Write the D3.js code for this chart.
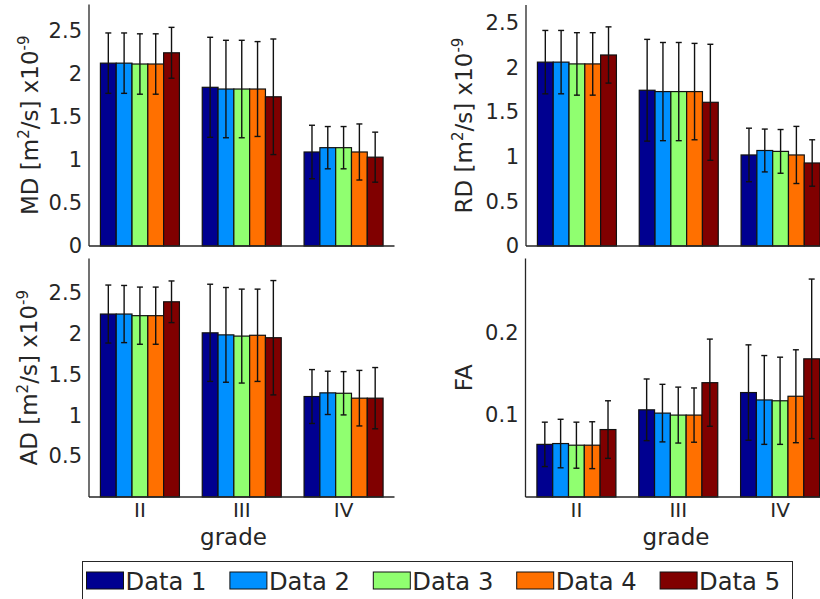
<!DOCTYPE html>
<html>
<head>
<meta charset="utf-8">
<script src="https://cdn.jsdelivr.net/npm/d3@7"></script>
<style>
  body { margin: 0; background: #fff; }
  svg text { font-family: 'DejaVu Sans', sans-serif; fill: #262626; }
</style>
</head>
<body>
<svg id="chart" width="820" height="599"></svg>
<script>
'use strict'

/****** DATA ******/

const grades = ['II', 'III', 'IV']
const seriesNames = ['Data 1', 'Data 2', 'Data 3', 'Data 4', 'Data 5']
const seriesColors = ['#000090', '#0090ff', '#90ff70', '#ff7000', '#800000']

// mean values, one row per grade (II, III, IV), one column per series
const mdMean = [[2.12, 2.12, 2.11, 2.11, 2.24],
                [1.84, 1.82, 1.82, 1.82, 1.73],
                [1.09, 1.14, 1.14, 1.09, 1.03]]
const mdErr  = [[0.35, 0.35, 0.35, 0.35, 0.295],
                [0.58, 0.565, 0.565, 0.55, 0.67],
                [0.31, 0.245, 0.245, 0.325, 0.29]]

const rdMean = [[2.06, 2.06, 2.04, 2.04, 2.14],
                [1.745, 1.73, 1.73, 1.73, 1.61],
                [1.02, 1.07, 1.06, 1.02, 0.93]]
const rdErr  = [[0.355, 0.355, 0.35, 0.35, 0.315],
                [0.57, 0.55, 0.55, 0.54, 0.65],
                [0.30, 0.24, 0.245, 0.32, 0.26]]

const adMean = [[2.24, 2.24, 2.22, 2.22, 2.39],
                [2.01, 1.985, 1.97, 1.98, 1.95],
                [1.23, 1.275, 1.27, 1.21, 1.21]]
const adErr  = [[0.355, 0.35, 0.35, 0.35, 0.255],
                [0.595, 0.58, 0.575, 0.565, 0.70],
                [0.33, 0.265, 0.265, 0.34, 0.375]]

const faMean = [[0.064, 0.065, 0.063, 0.063, 0.082],
                [0.106, 0.102, 0.0996, 0.0996, 0.139],
                [0.127, 0.118, 0.117, 0.1225, 0.168]]
const faErr  = [[0.027, 0.0295, 0.028, 0.0285, 0.035],
                [0.0375, 0.035, 0.034, 0.033, 0.053],
                [0.058, 0.054, 0.053, 0.0565, 0.097]]

const mdTicks = [0, 0.5, 1, 1.5, 2, 2.5]
const adTicks = [0.5, 1, 1.5, 2, 2.5]
const faTicks = [0.1, 0.2]

/****** LAYOUT ******/

const svg = d3.select('#chart')
const AXIS_COLOR = '#262626'
const PLOT_W = 305.5
const GROUP_W = 79

const panels = [
  { name: 'MD', mean: mdMean, err: mdErr, yMax: 2.8, ticks: mdTicks,
    left: 89, top: 4.5, bottom: 246, labelX: 38, xLabels: false },
  { name: 'RD', mean: rdMean, err: rdErr, yMax: 2.7, ticks: mdTicks,
    left: 526, top: 5, bottom: 246, labelX: 472, xLabels: false },
  { name: 'AD', mean: adMean, err: adErr, yMax: 2.92, ticks: adTicks,
    left: 89, top: 258.5, bottom: 497, labelX: 37, xLabels: true, gradeX: 233.5 },
  { name: 'FA', mean: faMean, err: faErr, yMax: 0.29, ticks: faTicks,
    left: 525.5, top: 258.5, bottom: 497, labelX: 472, xLabels: true, gradeX: 676 }
]

function drawPanel(p) {
  const x = d3.scaleBand().domain(grades).range([p.left, p.left + PLOT_W])
  const xs = d3.scaleBand().domain(d3.range(seriesNames.length))
    .range([-GROUP_W / 2, GROUP_W / 2])
  const y = d3.scaleLinear().domain([0, p.yMax]).range([p.bottom, p.top])

  const g = svg.append('g')

  // flatten to one record per bar
  const bars = []
  grades.forEach((gr, i) => seriesNames.forEach((s, j) => {
    bars.push({ grade: gr, s: j, v: p.mean[i][j], e: p.err[i][j] })
  }))

  g.selectAll('rect.bar')
    .data(bars)
    .join('rect')
      .attr('class', 'bar')
      .attr('x', d => x(d.grade) + x.bandwidth() / 2 + xs(d.s))
      .attr('y', d => y(d.v))
      .attr('width', xs.bandwidth())
      .attr('height', d => y(0) - y(d.v))
      .attr('fill', d => seriesColors[d.s])
      .attr('stroke', '#111')
      .attr('stroke-width', 1.2)

  // error bars
  const cx = d => x(d.grade) + x.bandwidth() / 2 + xs(d.s) + xs.bandwidth() / 2
  const eb = g.selectAll('g.err').data(bars).join('g').attr('class', 'err')
    .attr('stroke', '#111').attr('stroke-width', 1.4)
  eb.append('line')
    .attr('x1', cx).attr('x2', cx)
    .attr('y1', d => y(d.v + d.e)).attr('y2', d => y(d.v - d.e))
  eb.append('line')
    .attr('x1', d => cx(d) - 3).attr('x2', d => cx(d) + 3)
    .attr('y1', d => y(d.v + d.e)).attr('y2', d => y(d.v + d.e))
  eb.append('line')
    .attr('x1', d => cx(d) - 3).attr('x2', d => cx(d) + 3)
    .attr('y1', d => y(d.v - d.e)).attr('y2', d => y(d.v - d.e))

  // axes (box off, no tick marks)
  const yAxis = g.append('g')
    .attr('transform', `translate(${p.left},0)`)
    .call(d3.axisLeft(y).tickValues(p.ticks).tickSize(0).tickPadding(7)
      .tickFormat(d3.format('~g')))
  yAxis.select('.domain').attr('stroke', AXIS_COLOR).attr('stroke-width', 1.3)
    .attr('d', `M0,${p.top}V${p.bottom}`)
  yAxis.selectAll('text').style('font-size', '21px').attr('fill', AXIS_COLOR)

  const xAxis = g.append('g')
    .attr('transform', `translate(0,${p.bottom})`)
    .call(d3.axisBottom(x).tickSize(0).tickPadding(6))
  xAxis.select('.domain').attr('stroke', AXIS_COLOR).attr('stroke-width', 1.3)
    .attr('d', `M${p.left},0H${p.left + PLOT_W}`)
  xAxis.selectAll('text').style('font-size', '20px').attr('fill', AXIS_COLOR)
    .style('display', p.xLabels ? null : 'none')

  // y label
  const midY = (p.top + p.bottom) / 2
  const yl = g.append('text')
    .attr('transform', `translate(${p.labelX},${midY}) rotate(-90)`)
    .attr('text-anchor', 'middle')
    .style('font-size', '23px')
  if (p.name === 'FA') {
    yl.text('FA')
  } else {
    yl.append('tspan').text(`${p.name} [m`)
    yl.append('tspan').attr('dy', -9).style('font-size', '15px').text('2')
    yl.append('tspan').attr('dy', 9).text('/s] x10')
    yl.append('tspan').attr('dy', -9).style('font-size', '15px').text('-9')
  }

  if (p.xLabels) {
    g.append('text')
      .attr('x', p.gradeX).attr('y', 545)
      .attr('text-anchor', 'middle')
      .style('font-size', '23px')
      .text('grade')
  }
}

panels.forEach(drawPanel)

/****** LEGEND ******/

const legend = svg.append('g')
legend.append('rect')
  .attr('x', 82.5).attr('y', 561.5)
  .attr('width', 710).attr('height', 60)
  .attr('fill', '#fff').attr('stroke', AXIS_COLOR).attr('stroke-width', 1)

const items = legend.selectAll('g.item')
  .data(seriesNames)
  .join('g')
    .attr('class', 'item')
    .attr('transform', (d, i) => `translate(${86.5 + i * 143.4},572)`)
items.append('rect')
  .attr('width', 37).attr('height', 17)
  .attr('fill', (d, i) => seriesColors[i])
  .attr('stroke', '#111').attr('stroke-width', 1)
items.append('text')
  .attr('x', 39).attr('y', 17.5)
  .style('font-size', '24px')
  .attr('textLength', 81).attr('lengthAdjust', 'spacingAndGlyphs')
  .attr('fill', '#000')
  .text(d => d)
</script>
</body>
</html>
